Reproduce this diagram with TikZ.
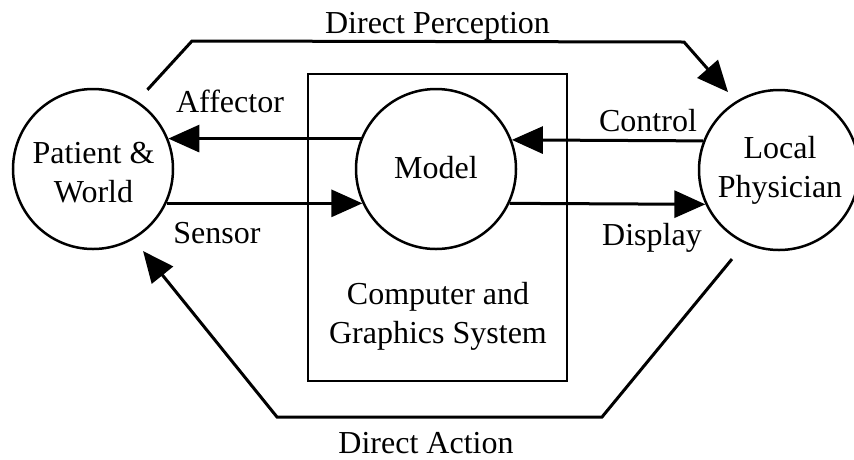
\documentclass[tikz,border=0pt]{standalone}
\usepackage{fontspec}
\setmainfont{Liberation Serif}
\usetikzlibrary{arrows.meta}
\begin{document}
\begin{tikzpicture}[x=1pt,y=-1pt,
  txt/.style={font=\fontsize{32}{39}\selectfont, inner sep=0pt},
  circ/.style={circle, draw, line width=2.5pt, minimum size=160pt, inner sep=0pt},
  flow/.style={line width=3pt, -{Triangle[length=31pt,width=27pt]}},
  lbl/.style={txt, anchor=base}
]
\useasboundingbox (0,0) rectangle (854,459);
\fill[white] (0,0) rectangle (854,459);

\node[draw, line width=2.5pt, minimum width=259pt, minimum height=307pt, inner sep=0pt] (sys) at (437.5,227.5) {};
\node[lbl, align=center] (systxt) at (438,343) {Computer and\\Graphics System};

\node[circ] (patient) at (93,169) {};
\node[circ] (model) at (436,169) {};
\node[circ] (local) at (779,170) {};
\node[lbl, align=center] (patienttxt) at (93.5,202) {Patient \&\\World};
\node[lbl] (modeltxt) at (436,178) {Model};
\node[lbl, align=center] (localtxt) at (780,197) {Local\\Physician};

% horizontal flows
\draw[flow] (model.158) -- (patient.22);
\draw[flow] (patient.-25) -- (model.205);
\draw[flow] (local.159) -- (model.21);
\draw[flow] (model.-25) -- (local.205);

\node[lbl] (aff) at (230,112) {Affector};
\node[lbl] (sen) at (217,243) {Sensor};
\node[lbl] (con) at (648,131) {Control};
\node[lbl] (dis) at (652,245) {Display};

% direct perception
\coordinate (dp1) at (192,41);
\coordinate (dp2) at (684,42);
\draw[flow, shorten <=15pt, shorten >=12pt] (patient.57) -- (dp1) -- (dp2) -- (local.122);
\node[lbl] (dptxt) at (437.5,33) {Direct Perception};

% direct action
\coordinate (da1) at (602,417);
\coordinate (da2) at (277,417);
\draw[flow, shorten <=20pt, shorten >=15pt] (local.-115) -- (da1) -- (da2) -- (patient.-60);
\node[lbl] (datxt) at (426,453) {Direct Action};
\end{tikzpicture}
\end{document}
